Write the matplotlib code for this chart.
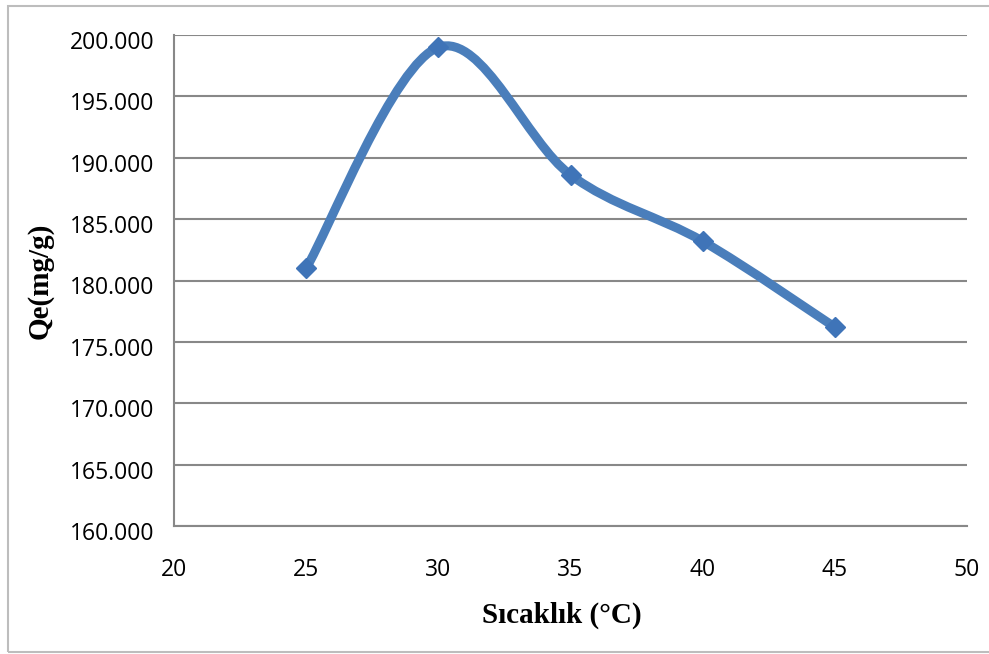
import matplotlib
matplotlib.use("Agg")
import matplotlib.pyplot as plt
import matplotlib.transforms as mtransforms
import numpy as np
from matplotlib.path import Path
from matplotlib.patches import PathPatch, Rectangle

temps = [25, 30, 35, 40, 45]
qe = [181.0, 199.0, 188.6, 183.2, 176.2]
y_ticks = [160, 165, 170, 175, 180, 185, 190, 195, 200]
x_ticks = [20, 25, 30, 35, 40, 45, 50]

fig = plt.figure(figsize=(9.89, 6.54), dpi=100)
ax = fig.add_axes([174/989, 1-526/654, (967-174)/989, (526-35)/654])

# Excel-style smoothed line (cubic Bezier, tension 1/6)
x = np.array(temps, float); y = np.array(qe, float)
n = len(x)
verts = [(x[0], y[0])]; codes = [Path.MOVETO]
for i in range(n-1):
    p0 = np.array([x[max(i-1, 0)], y[max(i-1, 0)]])
    p1 = np.array([x[i], y[i]])
    p2 = np.array([x[i+1], y[i+1]])
    p3 = np.array([x[min(i+2, n-1)], y[min(i+2, n-1)]])
    c1 = p1 + (p2 - p0) / 6
    c2 = p2 - (p3 - p1) / 6
    verts += [tuple(c1), tuple(c2), tuple(p2)]
    codes += [Path.CURVE4]*3
ax.add_patch(PathPatch(Path(verts, codes), facecolor='none', edgecolor='#4A7EBB',
                       lw=6.5, capstyle='round', joinstyle='round', zorder=3))
ax.plot(temps, qe, linestyle='none', marker='D', markersize=10,
        color='#3F74B8', zorder=4)

ax.set_xlim(20, 50)
ax.set_ylim(160, 200)
ax.set_xticks(x_ticks)
ax.set_yticks(y_ticks)
ax.set_yticklabels([f"{v:.3f}" for v in y_ticks])
ax.tick_params(length=0, labelsize=16.5)
ax.tick_params(axis='y', pad=14)
ax.tick_params(axis='x', pad=23)
off = mtransforms.ScaledTranslation(0, -5/100, fig.dpi_scale_trans)
for lab in ax.get_yticklabels():
    lab.set_transform(lab.get_transform() + off)
for lab in ax.get_xticklabels() + ax.get_yticklabels():
    lab.set_fontfamily('Open Sans')

ax.grid(axis='y', color='#888888', lw=1.5)
ax.set_axisbelow(True)
for s in ['top', 'right']:
    ax.spines[s].set_visible(False)
for s in ['left', 'bottom']:
    ax.spines[s].set_color('#888888')
    ax.spines[s].set_linewidth(1.5)

ax.set_xlabel('Sıcaklık (°C)', fontsize=21, fontweight='bold',
              fontfamily='Liberation Serif', labelpad=14)
ax.xaxis.label.set_x((562 - 174) / 793)
ax.set_ylabel('Qe(mg/g)', fontsize=21, fontweight='bold',
              fontfamily='Liberation Serif', labelpad=12)

fig.patches.append(Rectangle((8/989, 2/654), 1.1, 650/654 - 2/654 - 0.003,
                             transform=fig.transFigure, fill=False,
                             edgecolor='#BDBDBD', lw=1.5))

fig.savefig('out.png', dpi=100)
